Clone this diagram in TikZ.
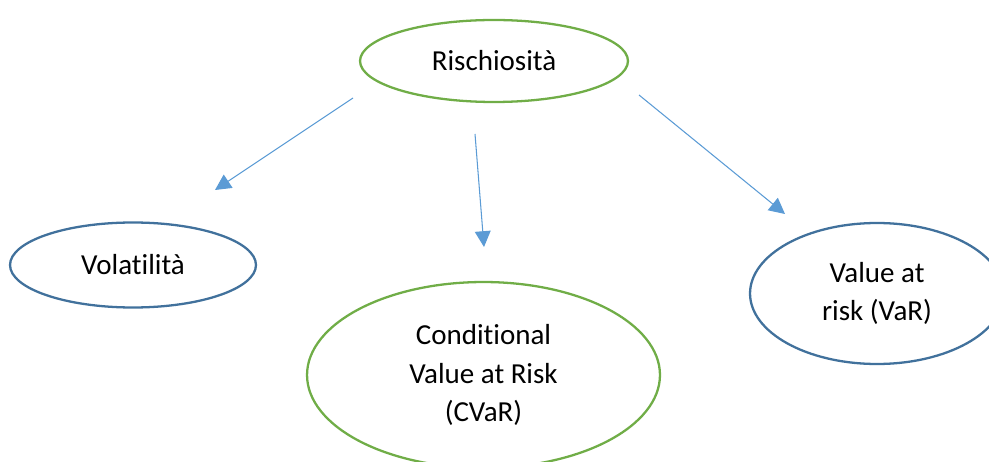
\documentclass[tikz,border=0pt]{standalone}
\usepackage{fontspec}
\setmainfont{Carlito}[Ligatures={NoCommon}]
\usetikzlibrary{shapes.geometric,arrows.meta}
\definecolor{riskgreen}{RGB}{112, 173, 71}
\definecolor{riskblue}{RGB}{65, 113, 156}
\definecolor{arrowblue}{RGB}{91, 155, 213}

\begin{document}
\begin{tikzpicture}[x=0.02cm, y=-0.02cm,
        measure/.style={ellipse, draw, line width=1.3pt, inner sep=0pt, align=center,
            font=\fontsize{16.5}{22}\selectfont},
        link/.style={draw=arrowblue, line width=0.6pt, -{Triangle[length=9pt, width=9pt]}}]
    \clip (0, 0) rectangle (989, 462);
    \node[measure, draw=riskgreen, minimum width=5.36cm, minimum height=1.64cm] (risk) at (494, 61) {Rischiosità};
    \node[measure, draw=riskblue, minimum width=4.92cm, minimum height=1.70cm] (vol) at (133, 265) {Volatilità};
    \node[measure, draw=riskgreen, minimum width=7.06cm, minimum height=3.72cm] (cvar) at (483.5, 375) {Conditional\\Value at Risk\\(CVaR)};
    \node[measure, draw=riskblue, minimum width=5.08cm, minimum height=2.82cm] (var) at (877, 293.5) {Value at\\risk (VaR)};
    \coordinate (volfrom) at (353, 98);
    \coordinate (volto) at (215, 190);
    \coordinate (cvarfrom) at (475, 134);
    \coordinate (cvarto) at (484, 247);
    \coordinate (varfrom) at (639, 95);
    \coordinate (varto) at (785, 214);
    \draw[link] (volfrom) -- (volto);
    \draw[link] (cvarfrom) -- (cvarto);
    \draw[link] (varfrom) -- (varto);
\end{tikzpicture}
\end{document}
